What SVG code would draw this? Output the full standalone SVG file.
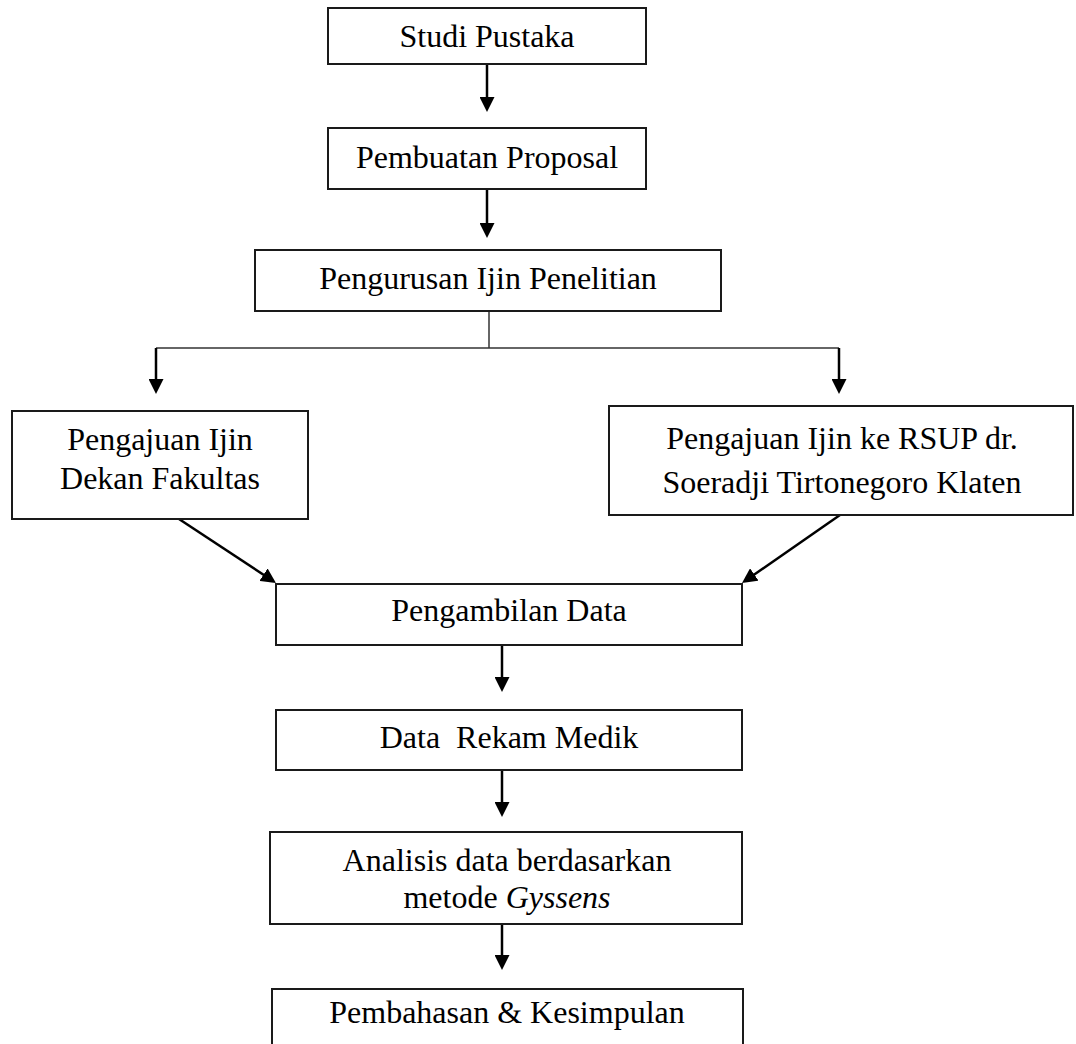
<svg xmlns="http://www.w3.org/2000/svg" width="1076" height="1044" viewBox="0 0 1076 1044">
  <style>
    .box { fill: #ffffff; stroke: #1a1a1a; stroke-width: 2; }
    .lbl { font-family: "Liberation Serif", "Times New Roman", serif; font-size: 32px; fill: #000000; text-anchor: middle; }
    .arr { stroke: #000000; stroke-width: 2.5; fill: none; marker-end: url(#ah); }
    .thin { stroke: #333333; stroke-width: 1.5; fill: none; }
  </style>
  <defs>
    <marker id="ah" viewBox="0 0 15 15" refX="10" refY="7.5" markerWidth="15" markerHeight="15" markerUnits="userSpaceOnUse" orient="auto">
      <path d="M0,0 L15,7.5 L0,15 Z" fill="#000000"/>
    </marker>
  </defs>
  <rect width="1076" height="1044" fill="#ffffff"/>

  <g id="connectors">
    <line class="arr" x1="487" y1="64" x2="487" y2="107"/>
    <line class="arr" x1="487" y1="189" x2="487" y2="233"/>
    <polyline class="thin" points="489,311 489,348"/>
    <polyline class="thin" points="156,348 839,348"/>
    <line class="arr" x1="156" y1="348" x2="156" y2="389"/>
    <line class="arr" x1="839" y1="348" x2="839" y2="389"/>
    <line class="arr" x1="179" y1="519" x2="271.8" y2="580.2"/>
    <line class="arr" x1="840" y1="515" x2="746.1" y2="580.2"/>
    <line class="arr" x1="502" y1="645" x2="502" y2="687"/>
    <line class="arr" x1="502" y1="770" x2="502" y2="812"/>
    <line class="arr" x1="502" y1="924" x2="502" y2="965"/>
  </g>

  <g id="studi-pustaka">
    <rect class="box" x="328" y="8" width="318" height="56"/>
    <text class="lbl" x="487" y="47">Studi Pustaka</text>
  </g>
  <g id="pembuatan-proposal">
    <rect class="box" x="328" y="128" width="318" height="61"/>
    <text class="lbl" x="487" y="168">Pembuatan Proposal</text>
  </g>
  <g id="pengurusan-ijin">
    <rect class="box" x="255" y="250" width="466" height="61"/>
    <text class="lbl" x="488" y="289">Pengurusan Ijin Penelitian</text>
  </g>
  <g id="ijin-dekan">
    <rect class="box" x="12" y="411" width="296" height="108"/>
    <text class="lbl" x="160" y="450">Pengajuan Ijin</text>
    <text class="lbl" x="160" y="489">Dekan Fakultas</text>
  </g>
  <g id="ijin-rsup">
    <rect class="box" x="609" y="406" width="464" height="109"/>
    <text class="lbl" x="842" y="449">Pengajuan Ijin ke RSUP dr.</text>
    <text class="lbl" x="842" y="493">Soeradji Tirtonegoro Klaten</text>
  </g>
  <g id="pengambilan-data">
    <rect class="box" x="276" y="584" width="466" height="61"/>
    <text class="lbl" x="509" y="621">Pengambilan Data</text>
  </g>
  <g id="data-rekam-medik">
    <rect class="box" x="276" y="710" width="466" height="60"/>
    <text class="lbl" x="509" y="748" xml:space="preserve" style="white-space:pre">Data  Rekam Medik</text>
  </g>
  <g id="analisis-data">
    <rect class="box" x="270" y="832" width="472" height="92"/>
    <text class="lbl" x="507" y="871">Analisis data berdasarkan</text>
    <text class="lbl" x="507" y="908">metode <tspan font-style="italic">Gyssens</tspan></text>
  </g>
  <g id="pembahasan">
    <rect class="box" x="272" y="989" width="471" height="70"/>
    <text class="lbl" x="507" y="1023">Pembahasan &amp; Kesimpulan</text>
  </g>
</svg>
